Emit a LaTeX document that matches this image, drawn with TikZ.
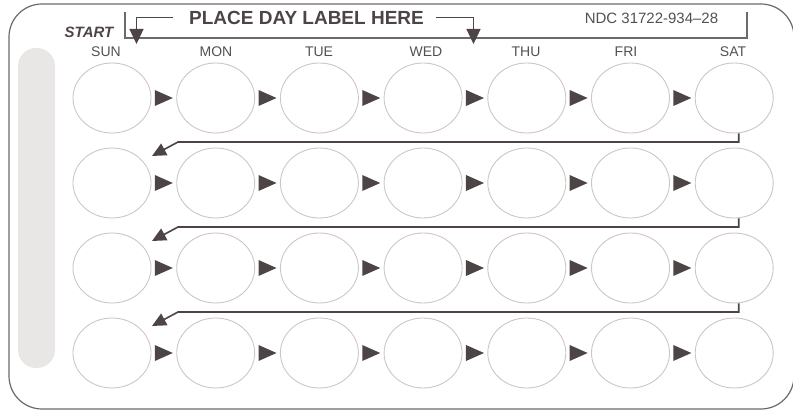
\documentclass[tikz,border=0pt]{standalone}
\usepackage{fontspec}
\setmainfont{Liberation Sans}
\usetikzlibrary{arrows.meta,shapes.geometric}
\definecolor{frameline}{HTML}{6E6868}
\definecolor{dark}{HTML}{4D4545}
\definecolor{ring}{HTML}{CDC6C6}
\definecolor{barfill}{HTML}{E9E6E6}
\definecolor{txt}{HTML}{555050}
\begin{document}
\begin{tikzpicture}[x=1pt,y=-1pt,
  outline/.style={draw=frameline,line width=1.2pt},
  pill/.style={ellipse,draw=ring,line width=0.9pt,minimum width=78pt,minimum height=70pt,inner sep=0pt},
  conn/.style={draw=dark,line width=1.6pt,-{Triangle[length=14pt,width=13pt]}},
  topconn/.style={draw=dark,line width=1.3pt,-{Triangle[length=15pt,width=14pt]}},
  daylbl/.style={text=txt,font=\fontsize{14}{15}\selectfont,inner sep=0pt},
  stepmark/.style={fill=dark}]
\useasboundingbox (0,0) rectangle (793,411);
% outer frame
\draw[outline,rounded corners=33pt] (9,4) rectangle (794,409);
% grey grip bar
\fill[barfill,rounded corners=18pt] (18,48) rectangle (55,368);
% label box
\draw[outline] (125,12) -- (125,38) -- (747,38) -- (747,12);
\node[text=dark,font=\bfseries\fontsize{19}{20}\selectfont,inner sep=0pt] (place) at (306.5,17.5) {PLACE DAY LABEL HERE};
\node[text=dark,font=\bfseries\itshape\fontsize{15}{16}\selectfont,inner sep=0pt] (start) at (89,32) {START};
\node[text=txt,font=\fontsize{15}{16}\selectfont,inner sep=0pt] (ndc) at (651.5,18) {NDC 31722-934--28};
% day labels
\node[daylbl] (d1) at (106,52) {SUN};
\node[daylbl] (d2) at (216,52) {MON};
\node[daylbl] (d3) at (319,52) {TUE};
\node[daylbl] (d4) at (426,52) {WED};
\node[daylbl] (d5) at (526,52) {THU};
\node[daylbl] (d6) at (626,52) {FRI};
\node[daylbl] (d7) at (733,52) {SAT};
\coordinate (tipL) at (136.5,44);
\coordinate (tipR) at (473.5,44);
\draw[topconn] ([xshift=-16pt]place.west) -| (tipL);
\draw[topconn] ([xshift=12pt]place.east) -| (tipR);
% pills
\foreach \r/\y in {1/98,2/183,3/268,4/353}{
  \foreach \c in {1,...,7}{
    \node[pill] (c-\r-\c) at ({112+103.7*(\c-1)},\y) {};
  }
  \foreach \c in {1,...,6}{
    \coordinate (m-\r-\c) at ({163.85+103.7*(\c-1)},\y);
    \fill[stepmark] ([shift={(-9,-8)}]m-\r-\c) -- ([shift={(9,0)}]m-\r-\c) -- ([shift={(-9,8)}]m-\r-\c) -- cycle;
  }
}
% row turn connectors
\foreach \r/\n/\yh in {1/2/142,2/3/227,3/4/312}{
  \coordinate (k-\r) at (178,\yh);
  \coordinate (t-\r) at (152,\yh+14);
  \draw[conn] ([xshift=4.5pt]c-\r-7.south) |- (k-\r) -- (t-\r);
}
\end{tikzpicture}
\end{document}
